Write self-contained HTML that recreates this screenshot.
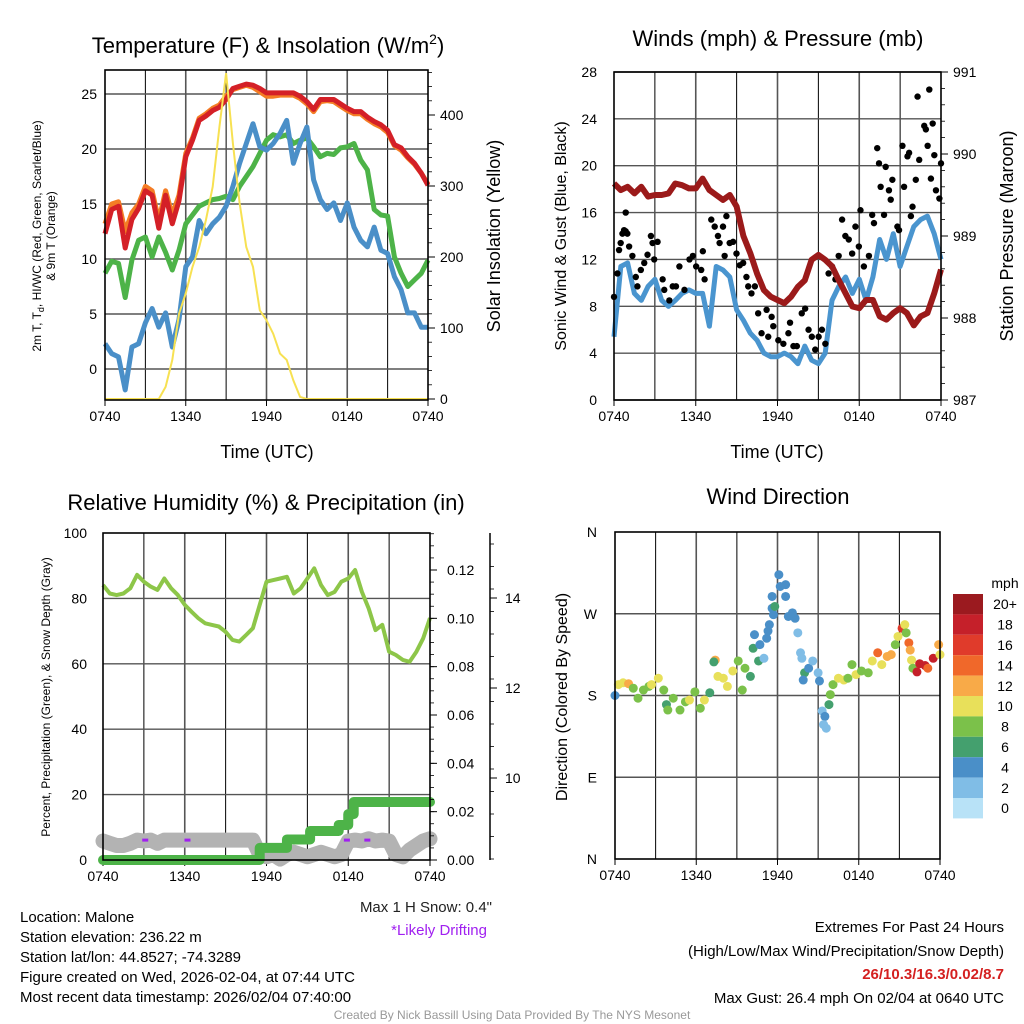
<!DOCTYPE html>
<html><head><meta charset="utf-8">
<style>
html,body{margin:0;padding:0;background:#fff;}
svg{display:block;font-family:"Liberation Sans",sans-serif;}
</style></head>
<body>
<svg id="fig" width="1024" height="1024" viewBox="0 0 1024 1024">
<g id="p1"></g>
<g id="p2"></g>
<g id="p3"></g>
<g id="p4"></g>
<g id="txt">
<text x="268" y="53" font-size="22" text-anchor="middle">Temperature (F) &amp; Insolation (W/m<tspan dy="-9" font-size="14">2</tspan><tspan dy="9">)</tspan></text>
<text x="778" y="46" font-size="22" text-anchor="middle">Winds (mph) &amp; Pressure (mb)</text>
<text x="266" y="510" font-size="22" text-anchor="middle">Relative Humidity (%) &amp; Precipitation (in)</text>
<text x="778" y="504" font-size="22" text-anchor="middle">Wind Direction</text>
<text x="267" y="458" font-size="18" text-anchor="middle">Time (UTC)</text>
<text x="777" y="458" font-size="18" text-anchor="middle">Time (UTC)</text>
<text transform="translate(41,236) rotate(-90)" font-size="12" text-anchor="middle">2m T, T<tspan dy="3" font-size="9">d</tspan><tspan dy="-3">, HI/WC (Red, Green, Scarlet/Blue)</tspan></text>
<text transform="translate(55,236) rotate(-90)" font-size="12" text-anchor="middle">&amp; 9m T (Orange)</text>
<text transform="translate(500,236) rotate(-90)" font-size="18" text-anchor="middle">Solar Insolation (Yellow)</text>
<text transform="translate(566,236) rotate(-90)" font-size="16" text-anchor="middle">Sonic Wind &amp; Gust (Blue, Black)</text>
<text transform="translate(1013,236) rotate(-90)" font-size="18" text-anchor="middle">Station Pressure (Maroon)</text>
<text transform="translate(50,697) rotate(-90)" font-size="12" text-anchor="middle">Percent, Precipitation (Green), &amp; Snow Depth (Gray)</text>
<text transform="translate(567,697) rotate(-90)" font-size="16" text-anchor="middle">Direction (Colored By Speed)</text>
<text x="492" y="912" font-size="15" text-anchor="end" fill="#222">Max 1 H Snow: 0.4"</text>
<text x="487" y="935" font-size="15" text-anchor="end" fill="#a020f0">*Likely Drifting</text>
<g font-size="15">
<text x="20" y="922">Location: Malone</text>
<text x="20" y="942">Station elevation: 236.22 m</text>
<text x="20" y="962">Station lat/lon: 44.8527; -74.3289</text>
<text x="20" y="982">Figure created on Wed, 2026-02-04, at 07:44 UTC</text>
<text x="20" y="1002">Most recent data timestamp: 2026/02/04 07:40:00</text>
</g>
<g font-size="15" text-anchor="end">
<text x="1004" y="932">Extremes For Past 24 Hours</text>
<text x="1004" y="956">(High/Low/Max Wind/Precipitation/Snow Depth)</text>
<text x="1004" y="979" font-weight="bold" fill="#d42020">26/10.3/16.3/0.02/8.7</text>
<text x="1004" y="1003">Max Gust: 26.4 mph On 02/04 at 0640 UTC</text>
</g>
<text x="512" y="1019" font-size="12" text-anchor="middle" fill="#999">Created By Nick Bassill Using Data Provided By The NYS Mesonet</text>
</g>
</svg>
<script>
// ---------- data ----------
const timeLabels = ["0740","1340","1940","0140","0740"];
// Temperature panel (0.5 h samples, 49 values)
const tempRed = [12.3,14.5,14.8,11.0,13.6,14.6,16.2,15.8,12.8,15.8,13.2,15.3,19.3,20.8,22.6,23.0,23.5,23.8,24.5,25.5,25.7,25.9,25.8,25.5,25.1,25.1,25.1,25.1,25.1,24.8,24.3,23.6,24.5,24.5,24.5,24.1,23.7,23.4,23.4,22.9,22.5,22.2,21.7,20.4,20.1,19.3,18.7,17.8,16.7];
const tempOrange = [13.2,15.0,15.2,12.5,14.2,15.0,16.6,16.2,13.5,16.2,14.0,15.8,19.6,21.0,22.8,23.2,23.7,24.0,24.8,25.4,25.6,25.8,25.6,25.2,24.8,24.8,24.9,24.9,24.9,24.6,24.1,23.4,24.3,24.4,24.3,23.9,23.5,23.2,23.2,22.7,22.3,22.0,21.5,20.3,19.9,19.2,18.6,17.8,16.8];
const tempGreen = [8.7,9.8,9.6,6.5,9.9,11.7,12.0,10.2,12.0,10.6,9.0,10.8,13.2,14.0,14.8,15.1,15.4,15.5,15.7,15.4,16.6,17.5,18.4,19.6,20.8,21.3,21.1,21.3,20.5,20.8,21.0,20.2,19.3,19.6,19.5,20.1,20.2,20.5,19.0,18.1,14.5,14.0,13.9,10.2,8.7,7.5,8.1,8.7,9.9];
const tempBlue = [2.3,1.4,1.1,-1.9,2.0,2.3,4.2,5.5,3.8,5.1,2.0,4.5,9.3,10.2,13.5,12.3,13.2,13.8,14.8,16.6,18.7,20.5,22.3,20.2,19.9,20.5,21.4,22.6,18.7,20.5,22.0,17.2,15.4,14.5,15.1,13.5,15.1,12.9,11.7,11.1,12.9,10.8,10.5,8.4,7.2,5.1,5.1,3.8,3.8];
const insolation = [0,0,0,0,0,0,0,0,0,17,55,120,149,186,214,252,299,383,459,360,276,214,186,125,111,92,64,55,26,3,0,0,0,0,0,0,0,0,0,0,0,0,0,0,0,0,0,0,0];
const tempTicks = [0,5,10,15,20,25];
const insTicks = [0,100,200,300,400];
// Winds panel
const windSpeed = [5.4,11.4,11.7,9.1,8.5,9.7,10.3,8.5,8.0,8.5,9.1,9.4,9.1,9.1,6.3,11.4,11.1,10.5,7.7,6.8,5.7,5.1,4.0,3.7,3.7,4.0,3.7,3.1,4.6,3.4,3.1,4.0,8.5,9.7,10.5,9.1,10.3,8.5,10.5,13.7,12.0,14.2,11.4,13.1,14.8,15.4,15.7,14.2,12.0];
const pressure = [989.64,989.56,989.60,989.52,989.60,989.48,989.50,989.50,989.52,989.64,989.62,989.58,989.58,989.70,989.56,989.50,989.44,989.50,989.36,989.00,988.79,988.54,988.34,988.26,988.22,988.18,988.26,988.38,988.46,988.71,988.77,988.71,988.63,988.46,988.30,988.14,988.12,988.22,988.22,988.02,987.98,988.06,988.12,988.06,987.91,988.02,988.06,988.30,988.59];
const gustHours = [0,0.25,0.37,0.49,0.62,0.74,0.86,0.98,0.86,1.11,1.35,1.6,1.72,1.97,2.22,2.46,2.71,2.83,2.95,3.2,3.57,3.69,4.06,4.31,4.55,4.8,5.17,5.54,5.79,6.03,6.4,6.52,6.65,7.14,7.39,7.63,7.75,8.0,8.12,8.25,8.49,8.74,8.99,9.23,9.48,9.72,9.85,10.09,10.34,10.58,10.83,11.2,11.32,11.57,11.69,12.06,12.43,12.8,12.92,13.17,13.42,13.78,14.03,14.28,14.52,14.77,15.02,15.26,15.51,15.75,16.0,16.25,16.49,16.74,16.98,17.23,17.48,17.72,17.97,18.09,18.34,18.71,18.95,19.08,19.32,19.45,19.57,19.82,19.94,20.18,20.31,20.43,20.8,20.92,21.17,21.29,21.54,21.66,21.79,21.91,22.15,22.4,22.28,22.77,22.89,23.02,23.14,23.26,23.39,23.51,23.63,23.88,24.0];
const gustMph = [8.8,10.8,12.8,13.4,14.2,14.5,14.4,14.2,16.0,13.1,12.3,10.5,9.7,11.1,11.7,12.4,14.0,13.4,12.0,13.5,10.3,9.4,8.5,9.7,9.7,11.4,9.4,12.0,12.3,11.4,11.1,12.7,10.3,15.4,14.8,14.0,13.4,14.8,12.3,15.7,13.4,13.5,12.5,11.5,11.7,10.5,9.7,9.1,9.7,7.4,5.7,7.7,5.4,7.1,6.3,5.1,4.8,5.7,6.6,4.6,4.6,7.4,7.8,6.0,5.4,4.3,5.4,6.0,4.8,10.8,11.4,10.3,12.3,15.4,14.0,13.7,12.5,14.8,13.1,16.2,11.4,12.3,15.8,15.1,21.5,20.2,18.2,15.8,19.9,17.9,17.1,18.8,14.8,14.5,21.7,18.2,20.8,21.1,15.7,16.5,18.8,20.5,25.9,23.4,23.1,21.7,26.5,18.9,23.6,20.9,17.9,17.2,20.2];
const windTicks = [0,4,8,12,16,20,24,28];
const presTicks = [987,988,989,990,991];
// Humidity panel
const rh = [84.1,81.5,81.0,81.5,83.1,87.2,85.1,83.6,82.6,86.1,83.1,81.0,78.0,75.9,73.9,72.4,71.9,71.4,69.8,67.3,66.8,68.8,70.9,78.0,85.1,85.6,86.1,86.6,81.5,83.1,86.1,89.2,84.1,81.0,82.0,85.1,86.1,88.7,82.0,76.9,70.3,71.9,63.7,62.7,61.2,60.6,63.7,67.8,74.0];
const precipHours = [0,11.5,13.5,15.2,17.3,18.0,18.4,24];
const precipIn = [0,0.005,0.0085,0.012,0.0145,0.019,0.024,0.024];
const snowDepth = [8.6,8.55,8.5,8.5,8.55,8.62,8.6,8.62,8.55,8.62,8.62,8.62,8.62,8.62,8.62,8.62,8.62,8.62,8.62,8.62,8.62,8.62,8.62,8.3,8.25,8.3,8.2,8.3,8.35,8.3,8.25,8.3,8.35,8.3,8.25,8.3,8.6,8.62,8.6,8.65,8.6,8.62,8.6,8.3,8.25,8.4,8.5,8.6,8.65];
const driftHours = [3.1,6.2,17.9,19.4];
const rhTicks = [0,20,40,60,80,100];
const precipTicks = [0,0.02,0.04,0.06,0.08,0.10,0.12];
const precipTickLabels = ["0.00","0.02","0.04","0.06","0.08","0.10","0.12"];
const snowTicks = [10,12,14];
// Wind direction panel
const dirHours = [0,0.25,0.6,1.0,1.35,1.7,2.1,2.5,2.7,3.2,3.6,3.8,3.9,4.3,4.8,5.2,5.5,5.9,6.3,6.6,7.0,7.4,7.3,7.6,8.0,8.3,8.7,9.1,9.4,9.6,10.0,10.2,10.3,10.6,10.7,11.0,11.2,11.3,11.4,11.6,11.7,11.8,11.6,12.1,12.2,12.6,12.6,12.8,13.1,13.3,13.5,13.7,13.8,14.0,13.9,14.3,14.6,15.0,15.1,15.3,15.5,15.4,15.6,15.8,15.9,16.1,16.5,16.9,17.2,17.5,17.8,18.2,18.7,19.0,19.4,19.7,20.1,20.4,20.7,20.9,21.2,21.4,21.5,21.7,21.8,21.9,22.0,22.3,22.5,22.9,23.1,23.5,23.9,24.0];
const dirDeg = [180,192,194,193,188,177,186,190,192,199,186,170,164,177,164,173,175,184,166,175,183,219,217,201,199,190,207,218,186,210,201,232,247,218,236,221,243,251,258,276,269,278,289,313,300,302,289,267,271,265,249,227,221,205,197,210,218,205,196,163,157,148,144,170,181,192,199,197,199,214,203,207,205,218,227,214,223,225,236,245,254,258,249,238,230,219,210,206,215,213,210,221,236,225];
const dirSpeed = [4,10,10,12,8,8,8,8,10,10,8,6,8,8,8,8,10,8,8,10,6,12,6,10,10,10,10,8,8,8,6,6,4,6,4,2,4,4,4,4,4,6,4,4,4,4,4,4,4,4,2,2,2,6,4,4,2,2,4,2,4,2,2,6,8,8,10,10,8,8,10,8,8,10,14,10,12,12,8,10,16,10,8,14,12,10,8,18,18,18,14,18,12,10];
const dirLabels = ["N","E","S","W","N"];
const speedBins = ["0","2","4","6","8","10","12","14","16","18","20+"];
const speedColors = ["#b8e2f7","#80bde6","#4a8fc8","#44a06e","#7bc14a","#e8e05a","#f8aa48","#f0682a","#e03b2b","#c5202a","#9b1a1f"];

// ---------- helpers ----------
const NS="http://www.w3.org/2000/svg";
function mk(parent, tag, attrs){const e=document.createElementNS(NS,tag);for(const k in attrs)e.setAttribute(k,attrs[k]);parent.appendChild(e);return e;}
function lin(d0,d1,r0,r1){return v=>r0+(v-d0)*(r1-r0)/(d1-d0);}
function halfHours(n){const a=[];for(let i=0;i<n;i++)a.push(i*0.5);return a;}
function pathFrom(xs,ys,fx,fy){return xs.map((x,i)=>(i?"L":"M")+fx(x).toFixed(1)+","+fy(ys[i]).toFixed(1)).join("");}
function stepPath(xs,ys,fx,fy){let d="M"+fx(xs[0])+","+fy(ys[0]);for(let i=1;i<xs.length;i++){d+="L"+fx(xs[i])+","+fy(ys[i-1])+"L"+fx(xs[i])+","+fy(ys[i]);}return d;}

function frame(g,L,R,T,B,gridYs,name){
  // vertical grid every 3 hours
  const fx=lin(0,24,L,R);
  for(let h=3;h<24;h+=3){
    const l=mk(g,"line",{x1:fx(h),x2:fx(h),y1:T,y2:B,stroke:h%6==0?"#555":"#000","stroke-width":h%6==0?1.6:1});
    
    
  }
  gridYs.forEach(y=>{
    const l=mk(g,"line",{x1:L,x2:R,y1:y,y2:y,stroke:"#555","stroke-width":1.4});
    
    
  });
  timeLabels.forEach((t,i)=>{
    const x=fx(i*6);
    const tk=mk(g,"line",{x1:x,x2:x,y1:B,y2:B+6,stroke:"#000"});
    
    
    const tx=mk(g,"text",{x:x,y:B+21,"font-size":14,"text-anchor":"middle"});
    tx.textContent=t;
    
    
  });
  return fx;
}
function border(g,L,R,T,B){
  const r=mk(g,"rect",{x:L,y:T,width:R-L,height:B-T,fill:"none",stroke:"#000","stroke-width":1.6});
  
  
}
function yLabels(g,ticks,fy,x,anchor,labels){
  ticks.forEach((v,i)=>{
    const t=mk(g,"text",{x:x,y:fy(v)+5,"font-size":14,"text-anchor":anchor});
    t.textContent=labels?labels[i]:String(v);
    
    
  });
}
function rightTicks(g,R,ticks,fy,minorStep,lo,hi){
  for(let v=lo;v<=hi+1e-9;v+=minorStep){
    const y=fy(v);
    const l=mk(g,"line",{x1:R,x2:R+4,y1:y,y2:y,stroke:"#000","stroke-width":0.8});
    
    
  }
  ticks.forEach(v=>{
    const y=fy(v);
    const l=mk(g,"line",{x1:R,x2:R+7,y1:y,y2:y,stroke:"#000","stroke-width":1});
    
    
  });
}

// ---------- Panel 1 ----------
(function(){
  const g=document.getElementById("p1");
  const L=105,R=428,T=70,B=400;
  const fy=lin(0,25,369,94), fi=lin(0,400,399,115);
  const fx=frame(g,L,R,T,B,tempTicks.map(fy),"p1");
  const hh=halfHours(49);
  const series=[[tempGreen,"#4db348","temp-dewpoint-line"],[tempBlue,"#4a8fc8","temp-windchill-line"],[tempOrange,"#f47d25","temp-9m-line"],[tempRed,"#d42027","temp-2m-line"]];
  series.forEach(s=>{
    const p=mk(g,"path",{d:pathFrom(hh,s[0],fx,fy),fill:"none",stroke:s[1],"stroke-width":5,"stroke-linejoin":"round"});
    
    
  });
  const y=mk(g,"path",{d:pathFrom(hh,insolation,fx,fi),fill:"none",stroke:"#f7e152","stroke-width":2});
  
  
  border(g,L,R,T,B);
  yLabels(g,tempTicks,fy,97,"end");
  rightTicks(g,R,insTicks,fi,20,0,460);
  yLabels(g,insTicks,fi,440,"start");
})();

// ---------- Panel 2 ----------
(function(){
  const g=document.getElementById("p2");
  const L=614,R=941,T=72,B=400;
  const fy=lin(0,28,400,72), fp=lin(987,991,400,72);
  const fx=frame(g,L,R,T,B,windTicks.map(fy),"p2");
  const hh=halfHours(49);
  const w=mk(g,"path",{d:pathFrom(hh,windSpeed,fx,fy),fill:"none",stroke:"#4a95cf","stroke-width":5,"stroke-linejoin":"round"});
  
  
  gustHours.forEach((h,i)=>{
    const c=mk(g,"circle",{cx:fx(h),cy:fy(gustMph[i]),r:3.2,fill:"#000"});
    
    
  });
  const p=mk(g,"path",{d:pathFrom(hh,pressure,fx,fp),fill:"none",stroke:"#9b1a1a","stroke-width":6,"stroke-linejoin":"round"});
  
  
  border(g,L,R,T,B);
  yLabels(g,windTicks,fy,597,"end");
  rightTicks(g,R,presTicks,fp,0.2,987,991);
  yLabels(g,presTicks,fp,953,"start");
})();

// ---------- Panel 3 ----------
(function(){
  const g=document.getElementById("p3");
  const L=103,R=430,T=533,B=860;
  const fy=lin(0,100,860,533), fpr=lin(0,0.12,860,570), fs=lin(8,14,868,598);
  const fx=frame(g,L,R,T,B,rhTicks.slice(1,5).map(fy),"p3");
  const hh=halfHours(49);
  const s=mk(g,"path",{d:pathFrom(hh,snowDepth,fx,fs),fill:"none",stroke:"#b3b3b3","stroke-width":15,"stroke-linejoin":"round","stroke-linecap":"round"});
  
  
  driftHours.forEach(h=>{
    const d=mk(g,"line",{x1:fx(h)-3,x2:fx(h)+3,y1:fs(8.62),y2:fs(8.62),stroke:"#a020f0","stroke-width":3});
    
    
  });
  const pr=mk(g,"path",{d:stepPath(precipHours,precipIn,fx,fpr),fill:"none",stroke:"#4db348","stroke-width":10,"stroke-linecap":"round","stroke-linejoin":"round"});
  
  
  const r=mk(g,"path",{d:pathFrom(hh,rh,fx,fy),fill:"none",stroke:"#8dc649","stroke-width":4,"stroke-linejoin":"round"});
  
  
  border(g,L,R,T,B);
  yLabels(g,rhTicks,fy,87,"end");
  rightTicks(g,R,precipTicks,fpr,0.005,0,0.135);
  yLabels(g,precipTicks,fpr,447,"start",precipTickLabels);
  const ax=mk(g,"line",{x1:490,x2:490,y1:533,y2:860,stroke:"#000","stroke-width":1.5});
  
  
  rightTicks(g,490,snowTicks,fs,0.5,8.2,15.5);
  yLabels(g,snowTicks,fs,505,"start");
})();

// ---------- Panel 4 ----------
(function(){
  const g=document.getElementById("p4");
  const L=615,R=940,T=532,B=859;
  const fy=lin(0,360,859,532);
  const fx=frame(g,L,R,T,B,[90,180,270].map(fy),"p4");
  function colorFor(s){const i=Math.min(10,Math.floor(s/2));return speedColors[i];}
  dirHours.forEach((h,i)=>{
    const c=mk(g,"circle",{cx:fx(h),cy:fy(dirDeg[i]),r:4.5,fill:colorFor(dirSpeed[i])});
    
    
  });
  border(g,L,R,T,B);
  dirLabels.forEach((t,i)=>{
    const tx=mk(g,"text",{x:597,y:fy(i*90)+5,"font-size":14,"text-anchor":"end"});
    tx.textContent=t;
    
    
  });
  // colorbar
  const cb=mk(g,"g",{});
  
  
  const top=594,h=20.4;
  speedBins.forEach((lab,i)=>{
    const k=10-i;
    const r=mk(cb,"rect",{x:953,y:top+i*h,width:30,height:h,fill:speedColors[k]});
    
    
    const t=mk(cb,"text",{x:1005,y:top+i*h+h/2+5,"font-size":14,"text-anchor":"middle"});
    t.textContent=speedBins[k];
    
    
  });
  const u=mk(cb,"text",{x:1005,y:588,"font-size":14,"text-anchor":"middle"});
  u.textContent="mph";
  
  
})();
</script>
</body></html>
